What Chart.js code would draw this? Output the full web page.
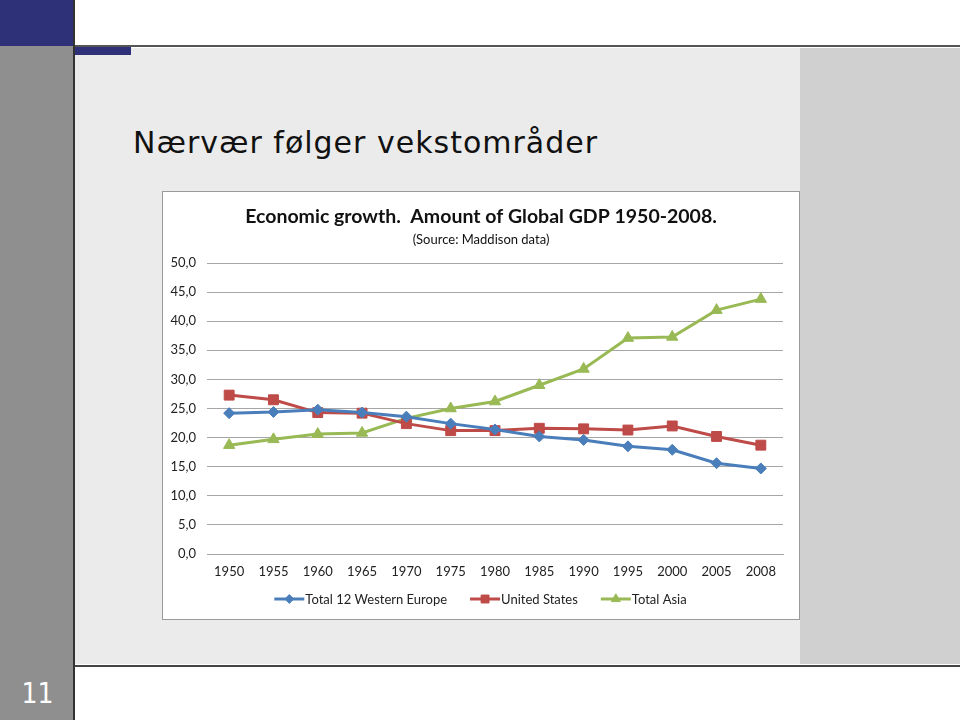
<!DOCTYPE html>
<html>
<head>
<meta charset="utf-8">
<title>Nærvær følger vekstområder</title>
<script src="https://cdn.jsdelivr.net/npm/chart.js@4.4.1/dist/chart.umd.min.js"></script>
<style>
  html, body { margin: 0; padding: 0; }
  body { width: 960px; height: 720px; position: relative; overflow: hidden; background: #fff; font-family: "DejaVu Sans", sans-serif; }
  .abs { position: absolute; }
  #navy    { left: 0; top: 0; width: 73px; height: 46px; background: #2e3178; }
  #leftbar { left: 0; top: 46px; width: 73px; height: 674px; background: #8f8f8f; }
  #vline   { left: 73px; top: 0; width: 2px; height: 720px; background: #333; }
  #topline { left: 73px; top: 45px; width: 887px; height: 2px; background: #555; }
  #content { left: 75px; top: 48px; width: 725px; height: 616px; background: #ebebeb; }
  #side    { left: 800px; top: 48px; width: 160px; height: 616px; background: #d0d0d0; }
  #tab     { left: 75px; top: 47px; width: 56px; height: 8px; background: #2e3178; }
  #botline { left: 73px; top: 665px; width: 887px; height: 2px; background: #444; }
  #pagenum { left: 0; top: 679px; width: 75px; text-align: center; color: #fff;
             font: 28px/30px "Liberation Sans Narrow", "DejaVu Sans Condensed", sans-serif; }
  #title   { left: 133px; top: 128px; color: #111; font: 30px/30px "DejaVu Sans", sans-serif;
             letter-spacing: 1px; white-space: nowrap; }
  #box     { left: 162px; top: 191px; width: 636px; height: 427px; border: 1px solid #9a9a9a; background: #fff; }
  #box canvas { position: absolute; left: 0; top: 0; }
</style>
</head>
<body>
<div class="abs" id="navy"></div>
<div class="abs" id="leftbar"></div>
<div class="abs" id="content"></div>
<div class="abs" id="side"></div>
<div class="abs" id="tab"></div>
<div class="abs" id="topline"></div>
<div class="abs" id="botline"></div>
<div class="abs" id="vline"></div>
<div class="abs" id="pagenum">11</div>
<div class="abs" id="title">Nærvær følger vekstområder</div>
<div class="abs" id="box"><canvas id="gdp" width="636" height="427"></canvas></div>

<script>
// --- data (share of global GDP, %) ---
const years = ['1950', '1955', '1960', '1965', '1970', '1975', '1980', '1985', '1990', '1995', '2000', '2005', '2008'];
const westernEurope = [24.2, 24.4, 24.8, 24.3, 23.6, 22.4, 21.4, 20.2, 19.6, 18.5, 17.9, 15.6, 14.7];
const unitedStates  = [27.3, 26.5, 24.3, 24.2, 22.4, 21.2, 21.2, 21.6, 21.5, 21.3, 22.0, 20.2, 18.7];
const totalAsia     = [18.7, 19.7, 20.6, 20.8, 23.3, 25.0, 26.2, 29.0, 31.8, 37.1, 37.3, 41.9, 43.8];

const seriesNames = ['Total 12 Western Europe', 'United States', 'Total Asia'];
const chartTitle    = 'Economic growth.  Amount of Global GDP 1950-2008.';
const chartSubtitle = '(Source: Maddison data)';

const yMin = 0, yMax = 50, yStep = 5;

const FONT = 'Lato, "Open Sans", sans-serif';

// title + subtitle drawn at fixed spots above the plot
const headerPlugin = {
  id: 'header',
  afterDraw(chart) {
    const { ctx, width } = chart;
    ctx.save();
    ctx.fillStyle = '#111';
    ctx.textAlign = 'center';
    ctx.textBaseline = 'middle';
    ctx.font = 'bold 19.5px ' + FONT;
    ctx.fillText(chartTitle, width / 2, 25);
    ctx.font = '13px ' + FONT;
    ctx.fillText(chartSubtitle, width / 2, 48);
    ctx.restore();
  },
};

// legend with line + marker, like the Excel one
const lineLegend = {
  id: 'lineLegend',
  afterDraw(chart) {
    const { ctx, width } = chart;
    const lineLen = 30, gap = 22, y = 407;
    ctx.save();
    ctx.font = '13px ' + FONT;
    const items = chart.data.datasets.map((ds) => ({ ds, w: lineLen + 2 + ctx.measureText(ds.label).width }));
    const total = items.reduce((s, it) => s + it.w, 0) + gap * (items.length - 1);
    let x = (width - total) / 2;
    items.forEach(({ ds, w }) => {
      ctx.strokeStyle = ds.borderColor;
      ctx.lineWidth = 3;
      ctx.beginPath();
      ctx.moveTo(x, y);
      ctx.lineTo(x + lineLen, y);
      ctx.stroke();
      ctx.fillStyle = ds.pointBackgroundColor;
      ctx.strokeStyle = ds.pointBorderColor;
      ctx.lineWidth = 1;
      Chart.helpers.drawPoint(ctx, { pointStyle: ds.pointStyle, radius: ds.pointRadius * 0.8, borderWidth: 1, rotation: 0 }, x + lineLen / 2, y);
      ctx.fillStyle = '#222';
      ctx.textAlign = 'left';
      ctx.textBaseline = 'middle';
      ctx.fillText(ds.label, x + lineLen + 1, y + 1);
      x += w + gap;
    });
    ctx.restore();
  },
};

function series(label, data, color, pointStyle, radius) {
  return {
    label,
    data,
    borderColor: color,
    backgroundColor: color,
    borderWidth: 3,
    pointStyle,
    pointRadius: radius,
    pointBackgroundColor: color,
    pointBorderColor: color,
    pointBorderWidth: 1,
    tension: 0,
    fill: false,
  };
}

new Chart(document.getElementById('gdp'), {
  type: 'line',
  data: {
    labels: years,
    datasets: [
      series(seriesNames[0], westernEurope, '#4a7ebb', 'rectRot', 5.5),
      series(seriesNames[1], unitedStates,  '#be4b48', 'rect', 7),
      series(seriesNames[2], totalAsia,     '#98b954', 'triangle', 6.5),
    ],
  },
  options: {
    responsive: false,
    animation: false,
    layout: { padding: { top: 71, right: 16, left: 0, bottom: 0 } },
    plugins: {
      legend:  { display: false },
      title:   { display: false },
      tooltip: { enabled: false },
    },
    scales: {
      x: {
        offset: true,
        grid:   { display: false, drawTicks: false },
        border: { display: true, color: '#a6a6a6', width: 1 },
        ticks:  { color: '#222', font: { family: FONT, size: 13 }, padding: 10, maxRotation: 0, autoSkip: false },
        afterFit: (scale) => { scale.height = 65; },
      },
      y: {
        min: yMin,
        max: yMax,
        grid:   { color: '#a6a6a6', lineWidth: 1, drawTicks: false },
        border: { display: false },
        ticks:  {
          stepSize: yStep,
          color: '#222',
          font: { family: FONT, size: 13 },
          padding: 11,
          callback: (v) => v.toFixed(1).replace('.', ','),
        },
        afterFit: (scale) => { scale.width = 44; },
      },
    },
  },
  plugins: [headerPlugin, lineLegend],
});
</script>
</body>
</html>
